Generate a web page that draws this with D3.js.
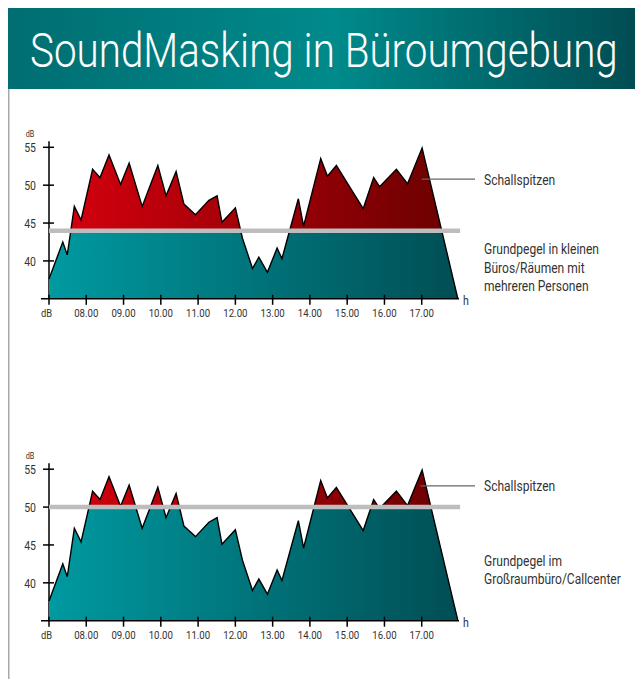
<!DOCTYPE html>
<html>
<head>
<meta charset="utf-8">
<script src="https://cdn.jsdelivr.net/npm/d3@7"></script>
<style>
  html, body { margin: 0; padding: 0; background: #fff; }
  svg { display: block; font-family: Roboto, 'Liberation Sans', sans-serif; }
</style>
</head>
<body>
<div id="holder"></div>
<script>
// measured noise level over the working day (same recording in both charts)
const hours = [7.0, 7.37, 7.49, 7.68, 7.86, 8.17, 8.37, 8.61, 8.92, 9.15, 9.50, 9.92, 10.14, 10.41,
               10.62, 10.93, 11.29, 11.51, 11.64, 12.0, 12.19, 12.46, 12.63, 12.86, 13.12, 13.25,
               13.69, 13.83, 14.29, 14.47, 14.71, 15.43, 15.71, 15.87, 16.32, 16.62, 17.01, 17.97];
const levels = [37.6, 42.5, 40.8, 47.2, 45.4, 52.1, 51.0, 54.0, 50.1, 52.9, 47.2, 52.6, 48.6, 51.8,
                47.5, 46.1, 48.0, 48.6, 45.1, 47.0, 43.0, 39.0, 40.5, 38.5, 41.7, 40.3,
                48.2, 44.6, 53.5, 51.2, 52.6, 46.9, 51.0, 49.8, 52.1, 50.2, 54.9, 35.0];

const hourTicks = [8, 9, 10, 11, 12, 13, 14, 15, 16, 17];
const hourLabels = ['08.00', '09.00', '10.00', '11.00', '12.00', '13.00', '14.00', '15.00', '16.00', '17.00'];
const dbTicks = [40, 45, 50, 55];

const title = 'SoundMasking in Büroumgebung';
const peakLabel = 'Schallspitzen';
const baseLevels = [44, 50];
const baseLabels = [
  ['Grundpegel in kleinen', 'Büros/Räumen mit', 'mehreren Personen'],
  ['Grundpegel im', 'Großraumbüro/Callcenter']
];
// where the "Schallspitzen" leader line starts, in data units
const peakMarks = [[17.0, 50.8], [16.97, 52.8]];

const svgWidth = 635, svgHeight = 679;

const svg = d3.select('#holder')
              .append('svg')
              .attr('width', svgWidth)
              .attr('height', svgHeight);

const defs = svg.append('defs');

function gradient(id, stops, x1, x2) {
  const g = defs.append('linearGradient')
                .attr('id', id)
                .attr('gradientUnits', 'userSpaceOnUse')
                .attr('x1', x1).attr('x2', x2)
                .attr('y1', 0).attr('y2', 0);
  stops.forEach(s => g.append('stop').attr('offset', s[0]).attr('stop-color', s[1]));
}

gradient('head', [[0, '#006e72'], [0.52, '#008a8b'], [1, '#004d53']], 8, 635);
gradient('red', [[0, '#d8000f'], [1, '#690000']], 49, 459);
gradient('teal', [[0, '#009aa1'], [1, '#004e54']], 49, 459);

// text in a narrow face: x/y is the anchor point, k the horizontal squeeze
function narrow(sel, x, y, k) {
  sel.attr('x', 0).attr('y', 0)
     .attr('transform', (d, i) => {
       const px = typeof x === 'function' ? x(d, i) : x;
       const py = typeof y === 'function' ? y(d, i) : y;
       return `translate(${px},${py}) scale(${k},1)`;
     });
  return sel;
}

// header
svg.append('rect')
   .attr('x', 8).attr('y', 8)
   .attr('width', 627).attr('height', 81)
   .attr('fill', 'url(#head)');

const head = svg.append('text')
   .attr('fill', '#fff')
   .attr('font-size', 49)
   .attr('font-weight', 300)
   .text(title);
// stretch the title to the measured width
const headW = head.node().getComputedTextLength();
narrow(head, 30, 67, 588 / headW);

svg.append('line')
   .attr('x1', 8.75).attr('x2', 8.75)
   .attr('y1', 89).attr('y2', 679)
   .attr('stroke', '#a8a8a8')
   .attr('stroke-width', 1.5);

const x = d3.scaleLinear().domain([7, 18]).range([49, 459]);
const data = hours.map((h, i) => [h, levels[i]]);

function drawChart(idx, top55, base) {
  const y = d3.scaleLinear().domain([35, 55]).range([top55 + 151.5, top55]);
  const g = svg.append('g');
  const y0 = y(35);

  // axes
  g.append('line')
   .attr('x1', x(7)).attr('x2', x(7))
   .attr('y1', y(55.8)).attr('y2', y0)
   .attr('stroke', '#000').attr('stroke-width', 1.5);

  g.append('g').selectAll('line')
   .data(dbTicks)
   .enter().append('line')
   .attr('x1', x(7) - 6).attr('x2', x(7) + 5)
   .attr('y1', d => y(d)).attr('y2', d => y(d))
   .attr('stroke', '#000').attr('stroke-width', 1.5);

  // areas: red above the base level, teal below
  const area = d3.area()
                 .x(d => x(d[0]))
                 .y0(y0)
                 .y1(d => y(d[1]));

  defs.append('clipPath').attr('id', 'above' + idx)
      .append('rect')
      .attr('x', 0).attr('y', 0)
      .attr('width', svgWidth).attr('height', y(base));
  defs.append('clipPath').attr('id', 'below' + idx)
      .append('rect')
      .attr('x', 0).attr('y', y(base))
      .attr('width', svgWidth).attr('height', y0 - y(base));

  g.append('path')
   .attr('d', area(data))
   .attr('fill', 'url(#red)')
   .attr('clip-path', `url(#above${idx})`);
  g.append('path')
   .attr('d', area(data))
   .attr('fill', 'url(#teal)')
   .attr('clip-path', `url(#below${idx})`);

  g.append('path')
   .attr('d', d3.line().x(d => x(d[0])).y(d => y(d[1]))(data))
   .attr('fill', 'none')
   .attr('stroke', '#000')
   .attr('stroke-width', 1.4);

  // x axis drawn after the fill
  g.append('line')
   .attr('x1', x(7) - 8).attr('x2', x(18))
   .attr('y1', y0).attr('y2', y0)
   .attr('stroke', '#000').attr('stroke-width', 1.5);

  g.append('g').selectAll('line')
   .data([7].concat(hourTicks))
   .enter().append('line')
   .attr('x1', d => x(d)).attr('x2', d => x(d))
   .attr('y1', y0 - 4).attr('y2', y0 + 6)
   .attr('stroke', '#000').attr('stroke-width', 1.5);

  // base level line
  g.append('line')
   .attr('x1', x(7)).attr('x2', x(18.03))
   .attr('y1', y(base)).attr('y2', y(base))
   .attr('stroke', '#bdbdbd').attr('stroke-width', 4.5);

  // tick labels
  narrow(g.append('g').selectAll('text')
          .data(hourTicks)
          .enter().append('text')
          .attr('text-anchor', 'middle')
          .attr('font-size', 11.5)
          .attr('fill', '#333')
          .text((d, i) => hourLabels[i]),
         d => x(d), y0 + 18, 0.84);

  narrow(g.append('g').selectAll('text')
          .data(dbTicks)
          .enter().append('text')
          .attr('dy', '0.36em')
          .attr('text-anchor', 'end')
          .attr('font-size', 12.5)
          .attr('fill', '#333')
          .text(d => d),
         36, d => y(d) + 0.5, 0.84);

  const small = g.append('g').attr('fill', '#333');
  narrow(small.append('text')
              .attr('text-anchor', 'middle')
              .attr('font-size', 8.5)
              .text('dB'), 30, y(55) - 10, 0.85);
  narrow(small.append('text')
              .attr('text-anchor', 'middle')
              .attr('font-size', 11)
              .text('dB'), 46.5, y0 + 18, 0.85);
  narrow(small.append('text')
              .attr('font-size', 12.5)
              .text('h'), x(18) + 4, y0 + 6, 0.85);

  // annotations on the right
  const pm = peakMarks[idx];
  g.append('line')
   .attr('x1', x(pm[0])).attr('x2', 475)
   .attr('y1', y(pm[1])).attr('y2', y(pm[1]))
   .attr('stroke', '#666').attr('stroke-width', 1.2);

  const notes = g.append('g').attr('fill', '#333').attr('font-size', 14.5);
  narrow(notes.append('text').text(peakLabel), 484, y(pm[1]) + 5.5, 0.83);

  const firstY = idx === 0 ? 254.3 : 565.7;
  narrow(notes.selectAll('text.base')
              .data(baseLabels[idx])
              .enter().append('text')
              .attr('class', 'base')
              .text(d => d),
         484, (d, i) => firstY + i * 18.2, 0.83);
}

drawChart(0, 147.3, baseLevels[0]);
drawChart(1, 469.2, baseLevels[1]);
</script>
</body>
</html>
